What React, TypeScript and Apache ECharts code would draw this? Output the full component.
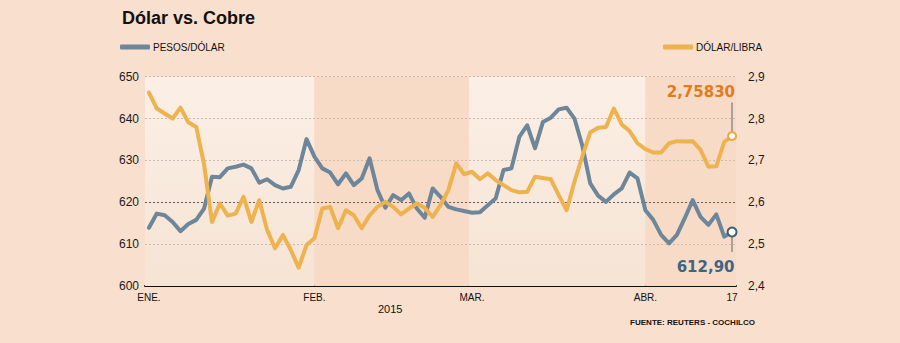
import React, { useEffect, useRef } from "react";
import * as echarts from "echarts";

// Trading-day index (0 = 2 Jan 2015 ... 74 = 17 Apr 2015)
const tickIndex = [0, 21, 41, 63, 74];
const tickLabels = ["ENE.", "FEB.", "MAR.", "ABR.", "17"];

// PESOS/DÓLAR (left axis)
const pesosDolar = [
  613.9, 617.3, 616.9, 615.3, 613.1, 614.8, 615.8, 618.5, 626.1, 626.0,
  628.1, 628.5, 629.0, 628.1, 624.7, 625.5, 624.1, 623.3, 623.7, 627.7,
  635.1, 630.9, 628.1, 627.1, 624.3, 626.9, 624.1, 625.7, 630.5, 622.9,
  618.7, 621.7, 620.5, 622.1, 618.5, 616.3, 623.3, 621.3, 618.9, 618.3,
  617.9, 617.5, 617.6, 619.3, 620.9, 627.7, 628.1, 635.6, 638.4, 632.9,
  639.2, 640.2, 642.2, 642.6, 640.0, 633.5, 624.5, 621.6, 620.1, 621.9,
  623.3, 627.1, 625.7, 618.1, 615.8, 612.2, 610.2, 612.2, 616.2, 620.5,
  616.5, 614.6, 617.1, 611.8, 612.9,
];

// DÓLAR/LIBRA (right axis)
const dolarLibra = [
  2.862, 2.824, 2.812, 2.8, 2.826, 2.791, 2.78, 2.69, 2.553, 2.597,
  2.568, 2.573, 2.613, 2.553, 2.605, 2.534, 2.49, 2.522, 2.486, 2.444,
  2.498, 2.514, 2.585, 2.589, 2.538, 2.581, 2.569, 2.538, 2.569, 2.589,
  2.601, 2.589, 2.571, 2.585, 2.597, 2.587, 2.565, 2.593, 2.629, 2.693,
  2.667, 2.673, 2.655, 2.669, 2.653, 2.641, 2.629, 2.624, 2.625, 2.661,
  2.658, 2.655, 2.617, 2.581, 2.649, 2.71, 2.767, 2.778, 2.78, 2.824,
  2.786, 2.77, 2.741, 2.727, 2.719, 2.719, 2.741, 2.746, 2.745, 2.746,
  2.725, 2.685, 2.686, 2.744, 2.7583,
];

// Month shading (in trading-day index units)
const lightBands = [
  [-0.5, 21],
  [40.6, 63],
];
const darkBands = [
  [21, 40.6],
  [63, 74.5],
];

const leftTicks = [600, 650, 10];
const rightTicks = [2.4, 2.9, 0.1];

const GRAY = "#6E869A";
const ORANGE = "#EEB24F";
const SANS = "'Liberation Sans', Arial, sans-serif";
const VERD = "'DejaVu Sans', Verdana, sans-serif";

export default function App() {
  const ref = useRef<HTMLDivElement>(null);
  useEffect(() => {
    if (!ref.current) return;
    const chart = echarts.init(ref.current, null, { renderer: "svg" });
    const lastIdx = pesosDolar.length - 1;
    const lastPeso = pesosDolar[lastIdx];
    const lastLibra = dolarLibra[lastIdx];

    const lightGrad = new echarts.graphic.LinearGradient(0, 0, 0, 1, [
      { offset: 0, color: "#FBEFE6" },
      { offset: 1, color: "#F6E4D4" },
    ]);

    const legendBase = {
      top: 42,
      padding: 0,
      itemWidth: 30,
      itemHeight: 5,
      icon: "roundRect",
      selectedMode: false,
      textStyle: { fontFamily: SANS, fontSize: 10, color: "#111", padding: [0, 0, 0, -2] },
    };

    const option: any = {
      animation: false,
      backgroundColor: "#F9DFCD",
      textStyle: { fontFamily: SANS },
      title: {
        text: "Dólar vs. Cobre",
        left: 122,
        top: 9,
        padding: 0,
        textStyle: { fontFamily: SANS, fontWeight: "bold", fontSize: 18, color: "#111" },
      },
      legend: [
        { ...legendBase, data: ["PESOS/DÓLAR"], left: 120 },
        { ...legendBase, data: ["DÓLAR/LIBRA"], left: 663 },
      ],
      grid: { left: 145, right: 164, top: 76.7, bottom: 57, outerBoundsMode: "none", containLabel: false },
      xAxis: {
        type: "value",
        min: -0.5,
        max: 74.5,
        axisLine: { show: true, onZero: false, lineStyle: { color: "#111", width: 2 } },
        axisTick: { show: false },
        splitLine: { show: false },
        axisLabel: {
          customValues: tickIndex,
          formatter: (v: number) => tickLabels[tickIndex.indexOf(v)] ?? "",
          margin: 6,
          fontFamily: SANS,
          fontSize: 10,
          color: "#111",
        },
      },
      yAxis: [
        {
          type: "value",
          position: "left",
          min: leftTicks[0],
          max: leftTicks[1],
          interval: leftTicks[2],
          z: 2,
          axisLine: { show: false },
          axisTick: { show: false },
          axisLabel: { margin: 6, fontFamily: SANS, fontSize: 12, color: "#1a1a1a" },
          splitLine: {
            show: true,
            lineStyle: {
              color: ["transparent", "#CDBDB1", "#5E5E5E", "#CDBDB1", "#CDBDB1", "#CDBDB1"],
              type: [2, 2],
              width: 1,
            },
          },
        },
        {
          type: "value",
          position: "right",
          min: rightTicks[0],
          max: rightTicks[1],
          interval: rightTicks[2],
          axisLine: { show: false },
          axisTick: { show: false },
          splitLine: { show: false },
          axisLabel: {
            margin: 12,
            fontFamily: SANS,
            fontSize: 12,
            color: "#1a1a1a",
            formatter: (v: number) => v.toFixed(1).replace(".", ","),
          },
        },
      ],
      series: [
        {
          name: "bands",
          type: "line",
          data: [],
          silent: true,
          z: 1,
          markArea: {
            silent: true,
            data: [
              ...lightBands.map((b) => [
                { xAxis: b[0], itemStyle: { color: lightGrad } },
                { xAxis: b[1] },
              ]),
              ...darkBands.map((b) => [
                { xAxis: b[0], itemStyle: { color: "#F7DBC7" } },
                { xAxis: b[1] },
              ]),
            ],
          },
        },
        {
          name: "PESOS/DÓLAR",
          type: "line",
          yAxisIndex: 0,
          z: 3,
          color: GRAY,
          symbol: "none",
          lineStyle: { width: 4, color: GRAY, join: "round", cap: "round" },
          data: pesosDolar.map((v, i) => [i, v]),
          markLine: {
            silent: true,
            symbol: ["none", "none"],
            label: { show: false },
            lineStyle: { color: "#8C8C8C", width: 1.5, type: "solid" },
            data: [[{ coord: [lastIdx, lastPeso - 1.1] }, { coord: [lastIdx, lastPeso - 4.8] }]],
          },
          markPoint: {
            silent: true,
            data: [
              {
                coord: [lastIdx, lastPeso],
                symbol: "circle",
                symbolSize: 9,
                itemStyle: { color: "#fff", borderColor: "#3F5F78", borderWidth: 2 },
                label: {
                  show: true,
                  formatter: () => lastPeso.toFixed(2).replace(".", ","),
                  position: [8, 40],
                  align: "right",
                  verticalAlign: "middle",
                  fontFamily: VERD,
                  fontWeight: "bold",
                  fontSize: 15,
                  color: "#3F6583",
                },
              },
            ],
          },
        },
        {
          name: "DÓLAR/LIBRA",
          type: "line",
          yAxisIndex: 1,
          z: 3,
          color: ORANGE,
          symbol: "none",
          lineStyle: { width: 4, color: ORANGE, join: "round", cap: "round" },
          data: dolarLibra.map((v, i) => [i, v]),
          markLine: {
            silent: true,
            symbol: ["none", "none"],
            label: { show: false },
            lineStyle: { color: "#8C8C8C", width: 1.5, type: "solid" },
            data: [[{ coord: [lastIdx, lastLibra + 0.01] }, { coord: [lastIdx, lastLibra + 0.08] }]],
          },
          markPoint: {
            silent: true,
            data: [
              {
                coord: [lastIdx, lastLibra],
                symbol: "circle",
                symbolSize: 8,
                itemStyle: { color: "#fff", borderColor: "#EDA640", borderWidth: 2 },
                label: {
                  show: true,
                  formatter: () => lastLibra.toFixed(5).replace(".", ","),
                  position: [8, -39],
                  align: "right",
                  verticalAlign: "middle",
                  fontFamily: VERD,
                  fontWeight: "bold",
                  fontSize: 15,
                  color: "#E27A1E",
                },
              },
            ],
          },
        },
      ],
      graphic: [
        {
          type: "text",
          left: 378,
          top: 303,
          style: { text: "2015", fontFamily: SANS, fontSize: 11, fill: "#111" },
        },
        {
          type: "text",
          right: 145,
          top: 318,
          style: {
            text: "FUENTE: REUTERS - COCHILCO",
            fontFamily: SANS,
            fontWeight: "bold",
            fontSize: 8,
            fill: "#111",
          },
        },
      ],
    };
    chart.setOption(option);
    return () => chart.dispose();
  }, []);
  return (
    <div
      ref={ref}
      style={{ position: "fixed", left: 0, top: 0, width: 900, height: 343 }}
    />
  );
}
